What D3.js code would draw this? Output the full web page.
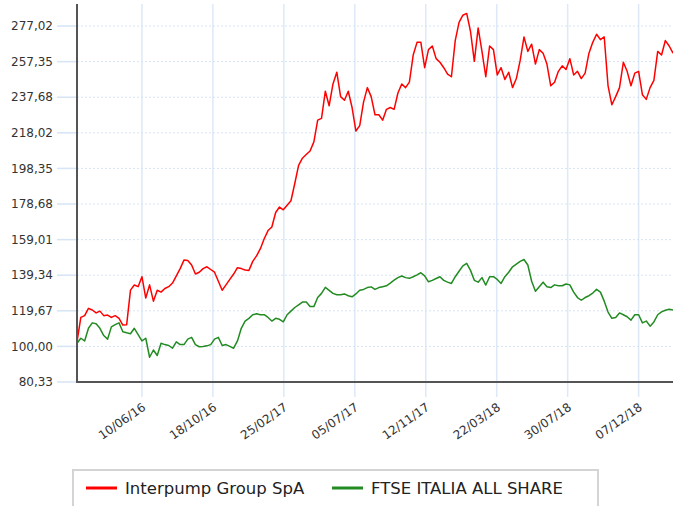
<!DOCTYPE html>
<html>
<head>
<meta charset="utf-8">
<script src="https://cdn.jsdelivr.net/npm/d3@7"></script>
<style>
  body { margin: 0; background: #fff; }
  #chart { width: 673px; height: 506px; }
  text { font-family: "DejaVu Sans", Verdana, sans-serif; }
</style>
</head>
<body>
<div id="chart"></div>
<script>
// Weekly closes (Fridays), rebased to 100 at the start date
const startDate = "2016-02-12";
const endDate = "2019-02-08";

const interpump = [
  102.5, 116, 117, 121, 120.1, 118.5, 119.5, 117, 117.3, 116, 117, 115.5, 111.8, 112, 131.1, 133.9, 133,
  138.5, 126.7, 134, 125, 131, 130, 132, 133, 135, 139, 143, 147.7, 147.5, 145, 140, 141, 143, 144,
  142.5, 141, 136, 131, 134, 137, 140, 143.5, 143, 142.2, 142, 147, 150, 154, 159.5, 164, 166, 174,
  177, 175.5, 178, 180.5, 190, 200, 204, 206, 208, 213, 225, 226, 241, 233, 245, 251.5, 238, 236,
  241, 232, 219, 222, 235, 243, 238, 228, 228, 225, 231, 232, 231, 240, 245, 243, 246, 261, 268,
  268, 254, 264, 266, 259, 257, 254, 250.5, 249, 269, 279, 283, 284, 274, 257.5, 276, 263, 249,
  266, 264, 250, 254, 247.5, 251.5, 243, 248, 258, 271, 263, 267, 256, 264, 262, 256, 244, 246,
  252, 255, 253, 259, 250, 252, 248, 251, 262, 268, 272.5, 269.5, 271, 244, 233.5, 238, 243, 257,
  252, 244, 251, 252, 239, 236.5, 243, 247, 263, 261, 269, 266, 262
];

const ftseItalia = [
  101.7, 104.5, 103, 110, 113, 112.5, 110, 106, 104, 110.8, 112, 113, 108.1, 107.5, 107, 110, 106.5,
  103, 104.5, 94, 98, 95, 101.7, 101, 100.5, 99, 102.5, 101, 101, 104, 105, 101, 99.8, 100, 100.3,
  101, 104, 105, 100.5, 101, 100, 99, 103, 110, 114, 115.5, 117.5, 118, 117.5, 117.5, 116, 114, 115.5,
  115, 113.6, 117.5, 119.5, 121.5, 123, 124.5, 124.5, 122, 122, 127, 129.3, 132.6, 131, 129.3, 128.5,
  128.5, 129, 128, 127.4, 129, 131, 131.5, 132.5, 132.9, 131.5, 132.5, 133, 133.5, 135, 136.6, 138,
  138.9, 138, 137.6, 138.5, 139.5, 140.7, 139, 135.7, 136.5, 137.5, 138.5, 136.5, 135.5, 134.8, 138.5,
  141.5, 144.5, 145.9, 142, 136.5, 135.5, 138, 133.9, 138.5, 138.5, 137, 134.8, 138.5, 141, 144, 145.5,
  147, 148, 145, 136, 130.5, 133, 135.5, 133, 132.5, 134, 133.5, 133.5, 134.5, 134, 130, 127, 125.5,
  127, 128, 129.5, 131.5, 130, 125, 119, 115.5, 116, 118.5, 117.5, 116.4, 114.5, 117.5, 117.5, 113,
  114, 111.2, 113.5, 117.5, 119.1, 120, 120.5, 120.1
];

const seriesNames = ["Interpump Group SpA", "FTSE ITALIA ALL SHARE"];
const seriesColors = ["#ff0000", "#228b22"];

// Axis ticks as printed on the chart
const yTicks = [80.33, 100.00, 119.67, 139.34, 159.01, 178.68, 198.35, 218.02, 237.68, 257.35, 277.02];
const xTicks = ["2016-06-10", "2016-10-18", "2017-02-25", "2017-07-05", "2017-11-12", "2018-03-22", "2018-07-30", "2018-12-07"];
const yMax = 289.2;

const width = 673, height = 506;
const margin = { top: 4, right: 0, bottom: 124, left: 77 };

const parseDate = d3.timeParse("%Y-%m-%d");
const start = parseDate(startDate);
const dates = interpump.map((_, i) => d3.timeDay.offset(start, i * 7));

const svg = d3.select("#chart")
    .append("svg")
    .attr("width", width)
    .attr("height", height);

const x = d3.scaleTime()
    .domain([start, parseDate(endDate)])
    .range([margin.left, width - margin.right]);

const y = d3.scaleLinear()
    .domain([yTicks[0], yMax])
    .range([height - margin.bottom, margin.top]);

const itFormat = d3.formatLocale({ decimal: ",", thousands: ".", grouping: [3], currency: ["€", ""] }).format(".2f");
const dateFormat = d3.timeFormat("%d/%m/%y");

// Vertical grid lines, running a little below the axis as tick marks
svg.append("g")
    .selectAll("line")
    .data(xTicks.map(parseDate))
    .enter()
    .append("line")
    .attr("x1", d => x(d))
    .attr("x2", d => x(d))
    .attr("y1", margin.top)
    .attr("y2", height - margin.bottom + 15)
    .attr("stroke", "#dde9f8")
    .attr("stroke-width", 1.5);

// Horizontal dotted grid lines + solid tick marks on the left
const yGrid = svg.append("g");
yGrid.selectAll("line.grid")
    .data(yTicks)
    .enter()
    .append("line")
    .attr("class", "grid")
    .attr("x1", margin.left)
    .attr("x2", width - margin.right)
    .attr("y1", d => y(d))
    .attr("y2", d => y(d))
    .attr("stroke", "#d6e4f5")
    .attr("stroke-dasharray", "2,2");
yGrid.selectAll("line.tick")
    .data(yTicks)
    .enter()
    .append("line")
    .attr("class", "tick")
    .attr("x1", margin.left - 20)
    .attr("x2", margin.left)
    .attr("y1", d => y(d))
    .attr("y2", d => y(d))
    .attr("stroke", "#d6e4f5")
    .attr("stroke-width", 1.5);

// Y labels
svg.append("g")
    .selectAll("text")
    .data(yTicks)
    .enter()
    .append("text")
    .attr("x", margin.left - 24)
    .attr("y", d => y(d))
    .attr("dy", "0.35em")
    .attr("text-anchor", "end")
    .style("font-size", "12px")
    .attr("fill", "#333")
    .text(d => itFormat(d));

// X labels, rotated
svg.append("g")
    .selectAll("text")
    .data(xTicks.map(parseDate))
    .enter()
    .append("text")
    .attr("transform", d => `translate(${x(d) + 4.5},${height - margin.bottom + 27}) rotate(-35)`)
    .attr("text-anchor", "end")
    .style("font-size", "12px")
    .attr("fill", "#333")
    .text(d => dateFormat(d));

// Lines
const line = d3.line()
    .x((d, i) => x(dates[i]))
    .y(d => y(d));

[interpump, ftseItalia].forEach((values, k) => {
    svg.append("path")
        .datum(values)
        .attr("fill", "none")
        .attr("stroke", seriesColors[k])
        .attr("stroke-width", 1.5)
        .attr("stroke-linejoin", "round")
        .attr("d", line);
});

// Axis lines (left + bottom)
svg.append("line")
    .attr("x1", margin.left).attr("x2", margin.left)
    .attr("y1", margin.top).attr("y2", height - margin.bottom + 1)
    .attr("stroke", "#555").attr("stroke-width", 2);
svg.append("line")
    .attr("x1", margin.left).attr("x2", width)
    .attr("y1", height - margin.bottom).attr("y2", height - margin.bottom)
    .attr("stroke", "#555").attr("stroke-width", 2);

// Legend
const legend = svg.append("g");
legend.append("rect")
    .attr("x", 73).attr("y", 470)
    .attr("width", 525).attr("height", 60)
    .attr("fill", "#fff")
    .attr("stroke", "#d4d4d4")
    .attr("stroke-width", 2);

const legendX = [86, 332];
seriesNames.forEach((name, k) => {
    legend.append("line")
        .attr("x1", legendX[k]).attr("x2", legendX[k] + 31)
        .attr("y1", 488).attr("y2", 488)
        .attr("stroke", seriesColors[k])
        .attr("stroke-width", 3);
    legend.append("text")
        .attr("x", legendX[k] + 39)
        .attr("y", 488)
        .attr("dy", "0.35em")
        .style("font-size", "16.5px")
        .attr("fill", "#222")
        .text(name);
});
</script>
</body>
</html>
